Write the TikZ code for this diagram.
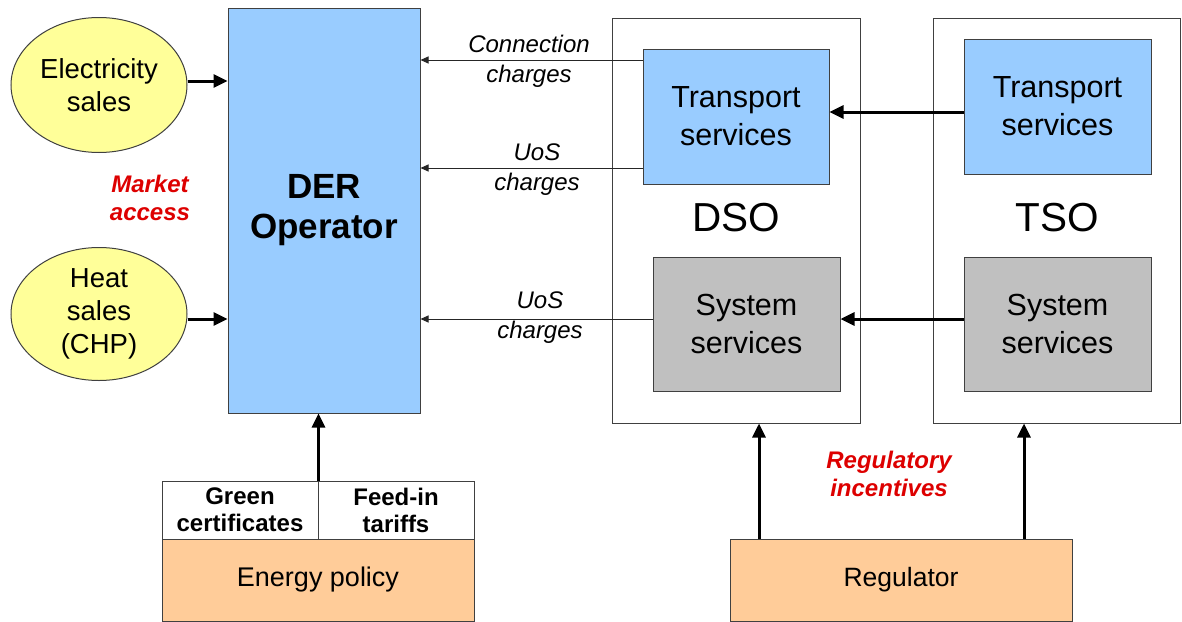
\documentclass[tikz,border=0pt]{standalone}
\usepackage{fontspec}
\setmainfont{Liberation Sans}
\usetikzlibrary{arrows.meta,shapes.geometric}
\definecolor{derblue}{HTML}{99CCFF}
\definecolor{salesyellow}{HTML}{FFFF99}
\definecolor{svcgray}{HTML}{C0C0C0}
\definecolor{policyorange}{HTML}{FFCC99}
\definecolor{incred}{HTML}{DD0000}
\definecolor{edgegray}{HTML}{404040}
\tikzset{
  box/.style={draw=edgegray,line width=1pt,inner sep=0pt,align=center},
  sales/.style={box,ellipse,fill=salesyellow,font=\fontsize{27.5}{33}\selectfont},
  svc/.style={box,minimum width=187pt,font=\fontsize{30.5}{38}\selectfont},
  charge/.style={align=center,font=\fontsize{24}{30}\selectfont\itshape},
  incentive/.style={align=center,text=incred,font=\fontsize{24}{28}\selectfont\bfseries\itshape},
  bigarrow/.style={line width=3pt,-{Triangle[length=14pt,width=13pt]}},
  thinarrow/.style={line width=1pt,draw=black!85,-{Triangle[length=8pt,width=7pt]}}
}
\begin{document}
\begin{tikzpicture}[x=1pt,y=-1pt]
  \useasboundingbox (0,0) rectangle (1182,621);
  %% market side
  \node[sales,minimum width=176pt,minimum height=135pt] (elec) at (99,85) {Electricity\\sales};
  \node[sales,minimum width=176pt,minimum height=133pt] (heat) at (99,314) {Heat\\sales\\(CHP)};
  \node[incentive] (market) at (150,198) {Market\\access};
  \node[box,fill=derblue,minimum width=192pt,minimum height=405pt,
        font=\fontsize{35}{40}\selectfont\bfseries] (der) at (324,210.5) {DER\\Operator};
  \coordinate (elevel) at (0,81);
  \coordinate (hlevel) at (0,319);
  \draw[bigarrow] (elec.east |- elevel) -- (der.west |- elevel);
  \draw[bigarrow] (heat.east |- hlevel) -- (der.west |- hlevel);
  %% energy policy
  \node[box,fill=white,minimum width=156pt,minimum height=58pt,
        font=\fontsize{24}{27}\selectfont\bfseries] (green) at (240,510) {Green\\certificates};
  \node[box,fill=white,minimum width=156pt,minimum height=58pt,
        font=\fontsize{24}{27}\selectfont\bfseries] (feed) at (396,510) {Feed-in\\tariffs};
  \node[box,fill=policyorange,minimum width=312pt,minimum height=82pt,
        font=\fontsize{27}{30}\selectfont] (policy) at (318,580) {Energy policy};
  \draw[bigarrow] (green.north east) -- (der.south -| green.north east);
  %% DSO and TSO
  \node[box,minimum width=248pt,minimum height=405pt] (dso) at (736,220.5) {};
  \node[box,minimum width=247pt,minimum height=405pt] (tso) at (1056.5,220.5) {};
  \node[font=\fontsize{40.5}{44}\selectfont] (dsoname) at (736,218) {DSO};
  \node[font=\fontsize{40.5}{44}\selectfont] (tsoname) at (1057,218) {TSO};
  \node[svc,fill=derblue,minimum width=186pt,minimum height=135pt] (dsotr) at (736,116.5) {Transport\\services};
  \node[svc,fill=svcgray,minimum height=134pt] (dsosys) at (746.5,324) {System\\services};
  \node[svc,fill=derblue,minimum height=135pt] (tsotr) at (1057.5,106.5) {Transport\\services};
  \node[svc,fill=svcgray,minimum height=134pt] (tsosys) at (1057.5,324) {System\\services};
  \coordinate (trlevel) at (0,112);
  \coordinate (syslevel) at (0,319);
  \draw[bigarrow] (tsotr.west |- trlevel) -- (dsotr.east |- trlevel);
  \draw[bigarrow] (tsosys.west |- syslevel) -- (dsosys.east |- syslevel);
  %% charges
  \node[charge] (conn) at (529,61) {Connection\\charges};
  \node[charge] (uostr) at (537,170) {UoS\\charges};
  \node[charge] (uossys) at (540,318) {UoS\\charges};
  \coordinate (connlevel) at (0,60);
  \coordinate (uoslevel) at (0,168);
  \draw[thinarrow] (dsotr.west |- connlevel) -- (der.east |- connlevel);
  \draw[thinarrow] (dsotr.west |- uoslevel) -- (der.east |- uoslevel);
  \draw[thinarrow] (dsosys.west |- syslevel) -- (der.east |- syslevel);
  %% regulator
  \node[box,fill=policyorange,minimum width=342pt,minimum height=82pt,
        font=\fontsize{26.5}{30}\selectfont] (reg) at (901,580) {Regulator};
  \node[incentive] (regincent) at (889,474) {Regulatory\\incentives};
  \coordinate (dsoin) at (759,0);
  \coordinate (tsoin) at (1024,0);
  \draw[bigarrow] (reg.north -| dsoin) -- (dso.south -| dsoin);
  \draw[bigarrow] (reg.north -| tsoin) -- (tso.south -| tsoin);
\end{tikzpicture}
\end{document}
